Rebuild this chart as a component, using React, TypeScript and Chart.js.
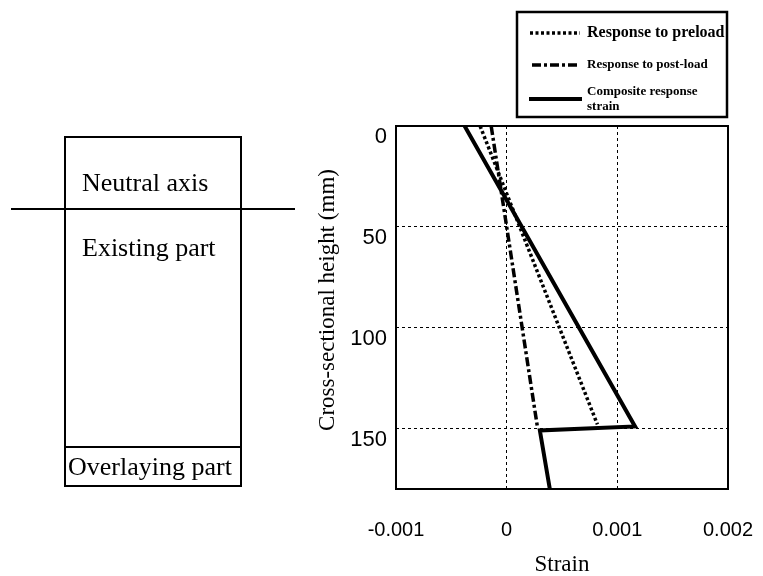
import React, { useEffect, useRef } from 'react';
import { Chart, registerables } from 'chart.js';

Chart.register(...registerables);

// ---- data ----
const seriesLabels = ['Response to preload', 'Response to post-load', 'Composite response strain'];
const preloadHeight = [0, 148];
const preloadStrain = [-0.00024, 0.00082];
const postloadHeight = [0, 150];
const postloadStrain = [-0.00014, 0.00028];
const compositeHeight = [0, 149, 151, 180];
const compositeStrain = [-0.00038, 0.00116, 0.0003, 0.00039];

const xTickValues = [-0.001, 0, 0.001, 0.002];
const xTickLabels = ['-0.001', '0', '0.001', '0.002'];
const yTickValues = [0, 50, 100, 150];
const yTickLabels = ['0', '50', '100', '150'];
const xRange = [-0.001, 0.002];
const yRange = [0, 180];
const xTitle = 'Strain';
const yTitle = 'Cross-sectional height (mm)';
const diagramLabels = ['Neutral axis', 'Existing part', 'Overlaying part'];

const SERIF = '"Liberation Serif", "Times New Roman", serif';
const SANS = '"Liberation Sans", Arial, sans-serif';

const toPoints = (xs: number[], ys: number[]) => xs.map((x, i) => ({ x, y: ys[i] }));

const framePlugin = {
  id: 'frame',
  beforeDatasetsDraw(chart: any) {
    const { ctx, chartArea } = chart;
    ctx.save();
    ctx.strokeStyle = '#000';
    ctx.lineWidth = 2;
    ctx.setLineDash([]);
    ctx.strokeRect(chartArea.left, chartArea.top, chartArea.right - chartArea.left, chartArea.bottom - chartArea.top);
    ctx.restore();
  },
};

const yTitlePlugin = {
  id: 'yTitle',
  afterDraw(chart: any) {
    const { ctx } = chart;
    ctx.save();
    ctx.translate(328, 300);
    ctx.rotate(-Math.PI / 2);
    ctx.fillStyle = '#000';
    ctx.font = `23px ${SERIF}`;
    ctx.textAlign = 'center';
    ctx.textBaseline = 'middle';
    ctx.fillText(yTitle, 0, 0);
    ctx.restore();
  },
};

const legendPlugin = {
  id: 'boxLegend',
  afterDraw(chart: any) {
    const { ctx } = chart;
    const rows = [
      { y: 33, size: 16, x1: 530, x2: 580 },
      { y: 65, size: 13, x1: 532, x2: 577 },
      { y: 99, size: 13, x1: 529, x2: 582 },
    ];
    ctx.save();
    ctx.strokeStyle = '#000';
    ctx.lineWidth = 2.5;
    ctx.setLineDash([]);
    ctx.strokeRect(517, 12, 210, 105);
    chart.data.datasets.forEach((ds: any, i: number) => {
      const r = rows[i];
      ctx.save();
      ctx.strokeStyle = ds.borderColor;
      ctx.lineWidth = ds.borderWidth;
      ctx.setLineDash(ds.borderDash || []);
      ctx.lineCap = 'butt';
      ctx.beginPath();
      ctx.moveTo(r.x1, r.y);
      ctx.lineTo(r.x2, r.y);
      ctx.stroke();
      ctx.restore();
      ctx.fillStyle = '#000';
      ctx.font = `bold ${r.size}px ${SERIF}`;
      ctx.textBaseline = 'middle';
      ctx.textAlign = 'left';
      const words = String(ds.label).split(' ');
      const lines: string[] = [];
      let cur = '';
      words.forEach((w) => {
        const t = cur ? cur + ' ' + w : w;
        if (ctx.measureText(t).width > 140 && cur) {
          lines.push(cur);
          cur = w;
        } else cur = t;
      });
      lines.push(cur);
      const lh = r.size * 1.2;
      const y0 = r.y - ((lines.length - 1) * lh) / 2;
      lines.forEach((ln, k) => ctx.fillText(ln, 587, y0 + k * lh));
    });
    ctx.restore();
  },
};

export default function App() {
  const ref = useRef<HTMLCanvasElement>(null);

  useEffect(() => {
    const chart = new Chart(ref.current as HTMLCanvasElement, {
      type: 'line',
      data: {
        datasets: [
          {
            label: seriesLabels[0],
            data: toPoints(preloadStrain, preloadHeight),
            borderColor: '#000',
            borderWidth: 3.5,
            borderDash: [3, 2.5],
            pointRadius: 0,
            fill: false,
          },
          {
            label: seriesLabels[1],
            data: toPoints(postloadStrain, postloadHeight),
            borderColor: '#000',
            borderWidth: 3.5,
            borderDash: [9, 3, 3, 3],
            pointRadius: 0,
            fill: false,
          },
          {
            label: seriesLabels[2],
            data: toPoints(compositeStrain, compositeHeight),
            borderColor: '#000',
            borderWidth: 4,
            borderJoinStyle: 'miter',
            pointRadius: 0,
            fill: false,
          },
        ] as any,
      },
      options: {
        responsive: false,
        animation: false,
        devicePixelRatio: 1,
        layout: { padding: { left: 310, top: 126, right: 35, bottom: 0 } },
        plugins: { legend: { display: false }, tooltip: { enabled: false } },
        scales: {
          x: {
            type: 'linear',
            min: xRange[0],
            max: xRange[1],
            afterBuildTicks: (s: any) => {
              s.ticks = xTickValues.map((v) => ({ value: v }));
            },
            afterFit: (s: any) => {
              s.height = 87;
              s.paddingLeft = 0;
              s.paddingRight = 0;
            },
            ticks: {
              callback: (_v: any, i: number) => xTickLabels[i],
              font: { family: SANS, size: 20 },
              color: '#000',
              padding: 29,
              maxRotation: 0,
              autoSkip: false,
            },
            grid: { color: '#000', lineWidth: 1, drawTicks: false },
            border: { display: false, dash: [3, 3] },
            title: {
              display: true,
              text: xTitle,
              color: '#000',
              font: { family: SERIF, size: 23, lineHeight: 1 },
              padding: { top: 0, bottom: 0 },
            },
          },
          y: {
            type: 'linear',
            reverse: true,
            min: yRange[0],
            max: yRange[1],
            afterBuildTicks: (s: any) => {
              s.ticks = yTickValues.map((v) => ({ value: v }));
            },
            afterFit: (s: any) => {
              s.width = 86;
            },
            ticks: {
              callback: (_v: any, i: number) => yTickLabels[i],
              font: { family: SANS, size: 22 },
              color: '#000',
              padding: 9,
              labelOffset: 11,
              autoSkip: false,
            },
            grid: { color: '#000', lineWidth: 1, drawTicks: false },
            border: { display: false, dash: [3, 3] },
            title: { display: false },
          },
        },
      } as any,
      plugins: [framePlugin, legendPlugin, yTitlePlugin],
    });
    return () => chart.destroy();
  }, []);

  const textStyle: React.CSSProperties = {
    position: 'absolute',
    fontFamily: SERIF,
    fontSize: 26,
    lineHeight: '26px',
    whiteSpace: 'nowrap',
    color: '#000',
  };

  return (
    <div style={{ position: 'absolute', left: 0, top: 0, width: 763, height: 576, background: '#fff', overflow: 'hidden' }}>
      <canvas
        ref={ref}
        width={763}
        height={576}
        style={{ position: 'absolute', left: 0, top: 0, width: 763, height: 576 }}
      />
      <div
        style={{
          position: 'absolute',
          left: 64,
          top: 136,
          width: 178,
          height: 351,
          border: '2px solid #000',
          boxSizing: 'border-box',
        }}
      />
      <div style={{ position: 'absolute', left: 64, top: 446, width: 178, height: 2, background: '#000' }} />
      <div style={{ position: 'absolute', left: 11, top: 208, width: 284, height: 2, background: '#000' }} />
      <div style={{ ...textStyle, left: 82, top: 170 }}>{diagramLabels[0]}</div>
      <div style={{ ...textStyle, left: 82, top: 235 }}>{diagramLabels[1]}</div>
      <div style={{ ...textStyle, left: 68, top: 454 }}>{diagramLabels[2]}</div>
    </div>
  );
}
